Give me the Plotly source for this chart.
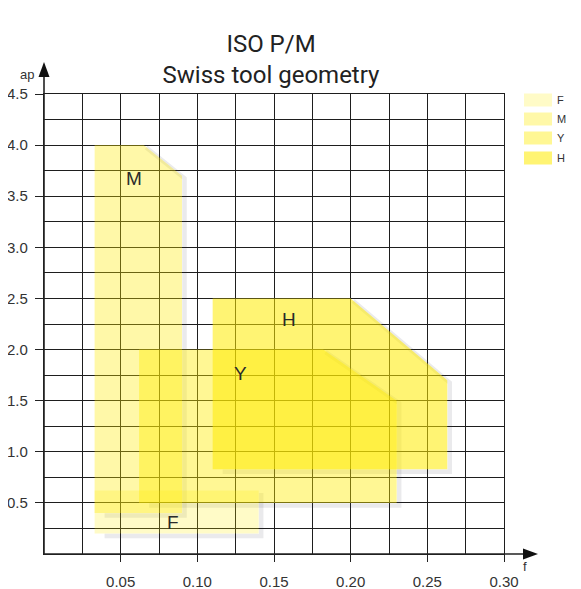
import plotly.graph_objects as go

# ---- data ----
names = ["F", "M", "Y", "H"]
F_x = [0.033, 0.14, 0.14, 0.033]
F_y = [0.2, 0.2, 0.62, 0.62]
M_x = [0.033, 0.09, 0.09, 0.065, 0.033]
M_y = [0.4, 0.4, 3.7, 4.0, 4.0]
Y_x = [0.062, 0.23, 0.23, 0.182, 0.062]
Y_y = [0.5, 0.5, 1.5, 2.0, 2.0]
H_x = [0.11, 0.263, 0.263, 0.2, 0.11]
H_y = [0.83, 0.83, 1.7, 2.5, 2.5]
label_x = [0.084, 0.059, 0.128, 0.160]
label_y = [0.31, 3.67, 1.77, 2.29]
x_ticks = [0.05, 0.10, 0.15, 0.20, 0.25, 0.30]
x_ticklabels = ["0.05", "0.10", "0.15", "0.20", "0.25", "0.30"]
y_ticks = [0.5, 1.0, 1.5, 2.0, 2.5, 3.0, 3.5, 4.0, 4.5]
y_ticklabels = ["0.5", "1.0", "1.5", "2.0", "2.5", "3.0", "3.5", "4.0", "4.5"]

alphas = [0.22, 0.34, 0.42, 0.55]
fills = [f"rgba(255,235,0,{a})" for a in alphas]
xs = [F_x, M_x, Y_x, H_x]
ys = [F_y, M_y, Y_y, H_y]

# the page body has an 8px default margin: size the figure to fill the window
OFF = 8
WIN_W, WIN_H = 581, 589
W, H = WIN_W - OFF, WIN_H - OFF
PL, PR, PT, PB = 44, 504, 94, 554          # plot area in window pixels
ML, MR, MT, MB = PL - OFF, WIN_W - PR, PT - OFF, WIN_H - PB
PW, PH = PR - PL, PB - PT
X_RANGE = [0, 0.30]
Y_RANGE = [0, 4.5]
TICK_FONT = "Liberation Sans"

def px2paper_x(px):
    return (px - PL) / PW

def px2paper_y(py):
    return (PB - py) / PH

# soft drop shadow offsets (pixels -> data units)
SH_DX = 2.5 * (X_RANGE[1] - X_RANGE[0]) / PW
SH_DY = 2.5 * (Y_RANGE[1] - Y_RANGE[0]) / PH

fig = go.Figure()
for x, y in zip(xs, ys):
    sx = [v + SH_DX for v in x[:-1]]
    sy = [v - SH_DY for v in y[:-1]]
    sx[0] += 3 * SH_DX
    fig.add_trace(go.Scatter(x=sx, y=sy, mode="lines", showlegend=False, hoverinfo="skip",
                             line=dict(color="rgba(60,60,80,0.11)", width=4.5)))
for n, x, y, c in zip(names, xs, ys, fills):
    fig.add_trace(go.Scatter(x=x, y=y, fill="toself", fillcolor=c, mode="none",
                             name=n, showlegend=False, hoverinfo="skip"))

for n, lx, ly in zip(names, label_x, label_y):
    fig.add_annotation(x=lx, y=ly, text=n, showarrow=False,
                       font=dict(family="Liberation Sans", size=19, color="#2a2a2a"))

shapes = []
# axis arrows
shapes.append(dict(type="line", xref="paper", yref="paper", x0=0, y0=0,
                   x1=px2paper_x(526), y1=0, line=dict(color="#222", width=1.6)))
shapes.append(dict(type="path", xref="paper", yref="paper",
                   path=f"M {px2paper_x(523)},{px2paper_y(548.5)} L {px2paper_x(538)},{px2paper_y(554)} "
                        f"L {px2paper_x(523)},{px2paper_y(559.5)} Z",
                   fillcolor="#111", line=dict(width=0)))
shapes.append(dict(type="line", xref="paper", yref="paper", x0=0, y0=0,
                   x1=0, y1=px2paper_y(74), line=dict(color="#222", width=1.6)))
shapes.append(dict(type="path", xref="paper", yref="paper",
                   path=f"M {px2paper_x(38.5)},{px2paper_y(77)} L {px2paper_x(44)},{px2paper_y(62)} "
                        f"L {px2paper_x(49.5)},{px2paper_y(77)} Z",
                   fillcolor="#111", line=dict(width=0)))

# manual legend
leg_y = [100, 119, 138, 158]
for n, c, ly in zip(names, fills, leg_y):
    shapes.append(dict(type="rect", xref="paper", yref="paper",
                       x0=px2paper_x(524), x1=px2paper_x(552),
                       y0=px2paper_y(ly + 6.5), y1=px2paper_y(ly - 6.5),
                       fillcolor=c, line=dict(width=0)))
    fig.add_annotation(xref="paper", yref="paper", x=px2paper_x(555), y=px2paper_y(ly),
                       xanchor="left", yanchor="middle", text=n, showarrow=False,
                       font=dict(family="Liberation Sans", size=11, color="#333"))

# axis titles
fig.add_annotation(xref="paper", yref="paper", x=px2paper_x(27), y=px2paper_y(75),
                   xanchor="center", yanchor="middle",
                   text="ap", showarrow=False,
                   font=dict(family="Liberation Sans", size=13, color="#333"))
fig.add_annotation(xref="paper", yref="paper", x=px2paper_x(525), y=px2paper_y(566),
                   xanchor="center", yanchor="middle",
                   text="f", showarrow=False,
                   font=dict(family="Liberation Sans", size=13, color="#333"))

fig.update_layout(
    width=W, height=H,
    margin=dict(l=ML, r=MR, t=MT, b=MB, pad=0, autoexpand=False),
    paper_bgcolor="white", plot_bgcolor="white",
    shapes=shapes,
    title=dict(text="ISO P/M<br>Swiss tool geometry", x=px2paper_x(271), xref="paper",
               xanchor="center", y=1 - (44 - OFF + 8) / H, yanchor="top", yref="container",
               font=dict(family="Roboto", size=24, color="#222")),
    showlegend=False,
)
fig.update_xaxes(range=X_RANGE, tickvals=x_ticks, ticktext=x_ticklabels,
                 ticks="outside", ticklen=7, tickwidth=1.3, tickcolor="#222",
                 showgrid=True, gridcolor="#1e1e1e", gridwidth=1.2,
                 minor=dict(dtick=0.025, tick0=0, showgrid=True, gridcolor="#1e1e1e", gridwidth=1.2, ticks=""),
                 showline=True, mirror=True, linecolor="#1e1e1e", linewidth=1.2,
                 zeroline=False, ticklabelstandoff=7, automargin=False,
                 tickfont=dict(family=TICK_FONT, size=15, color="#333"))
fig.update_yaxes(range=Y_RANGE, tickvals=y_ticks, ticktext=y_ticklabels,
                 ticks="outside", ticklen=8, tickwidth=1.3, tickcolor="#222",
                 showgrid=True, gridcolor="#1e1e1e", gridwidth=1.2,
                 minor=dict(dtick=0.25, tick0=0, showgrid=True, gridcolor="#1e1e1e", gridwidth=1.2, ticks=""),
                 showline=True, mirror=True, linecolor="#1e1e1e", linewidth=1.2,
                 zeroline=False, ticklabelstandoff=4, automargin=False,
                 tickfont=dict(family=TICK_FONT, size=15, color="#333"))

fig.write_html("out.html")
